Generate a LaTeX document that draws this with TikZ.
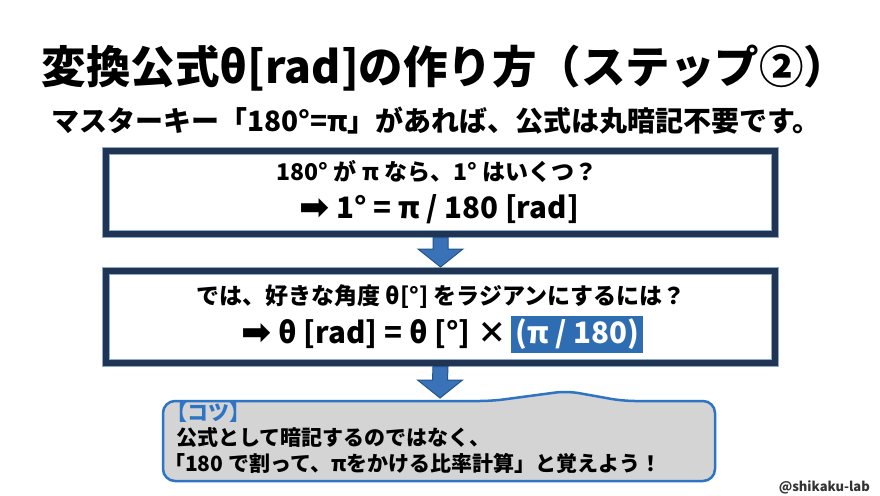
\documentclass[tikz,border=0pt]{standalone}
\usepackage{fontspec}
\setmainfont{Noto Sans CJK JP}
\newfontfamily\symfont{DejaVu Sans}
\usetikzlibrary{positioning}
\usetikzlibrary{calc}

\definecolor{navy}{HTML}{1F3553}
\definecolor{edgeblue}{HTML}{8EA9CC}
\definecolor{arrowblue}{HTML}{3A72B8}
\definecolor{arrowedge}{HTML}{24528C}
\definecolor{hlblue}{HTML}{2F6DB3}
\definecolor{tipgray}{HTML}{D4D4D4}
\definecolor{tipblue}{HTML}{2E74C4}
\definecolor{creditgray}{HTML}{333333}

\newcommand{\fs}[1]{\fontsize{#1}{#1}\selectfont\bfseries}
\newcommand{\bigarrow}{{\symfont\fontsize{36}{36}\selectfont\raisebox{-1pt}{➡}}}

\begin{document}
\begin{tikzpicture}[x=1pt, y=-1pt,
  stepbox/.style={draw=edgeblue, line width=1pt, double=navy, double distance=6pt,
    fill=white, minimum width=669pt, inner sep=0pt, outer sep=4pt},
  blockarrow/.style={fill=arrowblue, draw=arrowedge, line width=1pt, line join=miter},
  tipshape/.style={fill=tipgray, draw=tipblue, line width=2.5pt, rounded corners=12pt},
  txt/.style={inner sep=0pt, text=black}
 ]
 	 % Frame of the page
 	 \useasboundingbox[fill=white] (0,0) rectangle (880,495);

 	 % Headings
 	 \node[txt, font=\fs{44.5}] (title) at (445,68) {変換公式θ[rad]の作り方（ステップ②）};
 	 \node[txt, font=\fs{28}] (subtitle) at (436,121) {マスターキー「180°=π」があれば、公式は丸暗記不要です。};

 	 % The two step boxes
 	 \node[stepbox, minimum height=83pt] (box1) at (440.5,192) {};
 	 \node[stepbox, minimum height=91.5pt] (box2) at (440.5,316.75) {};

 	 \node[txt, font=\fs{23}] (q1) at (437,172) {180° が π なら、1° はいくつ？};
 	 \node[txt, font=\fs{29.5}] (a1) at (439,209) {\bigarrow\ 1° = π / 180 [rad]};

 	 \node[txt, font=\fs{23}] (q2) at (441,297) {では、好きな角度 θ[°] をラジアンにするには？};
 	 \node[txt, font=\fs{29.5}, anchor=east] (a2) at (507,334) {\bigarrow\ θ [rad] = θ [°] ×};
 	 \node[txt, font=\fs{29.5}, fill=hlblue, text=white, minimum height=37pt, inner xsep=4pt,
 	   right=4pt of a2] (hl) {(π / 180)};

 	 % Callout with the tip
 	 \draw[tipshape] (163,440) -- (163,401) -- (492,401) -- (567,391) -- (623,401)
 	   -- (715,401) -- (715,481) -- (163,481) -- cycle;
 	 \coordinate (tiptop) at (440,398);

 	 \node[txt, font=\fs{21}, text=tipblue, anchor=west] (tiphead) at (166,413) {【コツ】};
 	 \node[txt, font=\fs{21}, anchor=west] (tipline1) at (176,438) {公式として暗記するのではなく、};
 	 \node[txt, font=\fs{21}, anchor=west] (tipline2) at (164,463) {「180 で割って、πをかける比率計算」と覚えよう！};

 	 % Block arrows between the steps
 	 \foreach \a/\b in {box1.south/box2.north, box2.south/tiptop} {
 	 	\draw[blockarrow] ($(\a)+(-7.5,0)$) -- ($(\b)+(-7.5,-18)$) -- ($(\b)+(-22.5,-18)$)
 	 	  -- (\b) -- ($(\b)+(22.5,-18)$) -- ($(\b)+(7.5,-18)$) -- ($(\a)+(7.5,0)$) -- cycle;
 	 }

 	 % Credit
 	 \node[txt, font=\fontsize{13}{13}\selectfont\bfseries, text=creditgray, anchor=east] (credit) at (870,487) {@shikaku-lab};
\end{tikzpicture}
\end{document}
